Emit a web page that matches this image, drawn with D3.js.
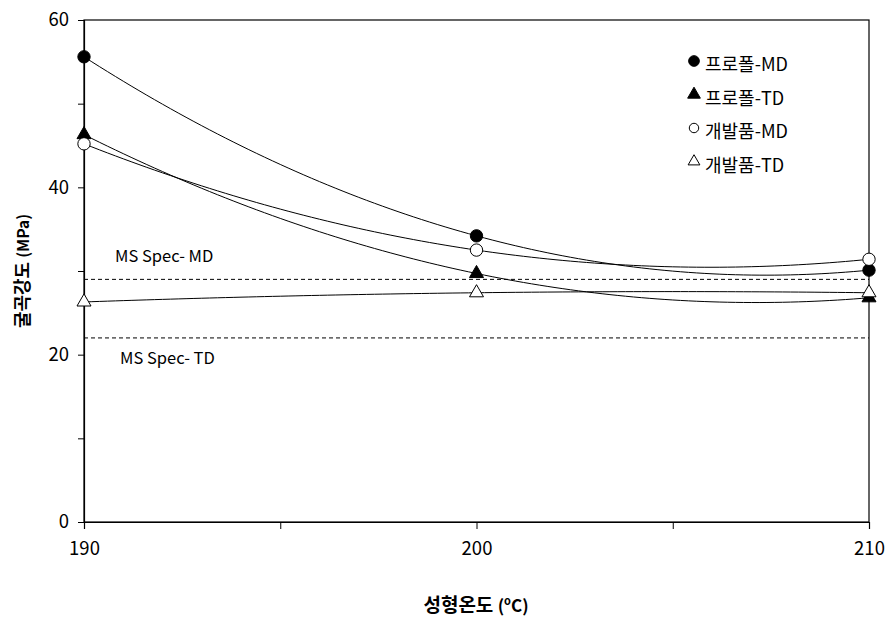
<!DOCTYPE html>
<html><head><meta charset="utf-8">
<script src="https://cdn.jsdelivr.net/npm/d3@7"></script>
<style>body{margin:0;background:#fff}svg{display:block}text{font-family:"Noto Sans CJK KR","Noto Sans",sans-serif}</style>
</head><body><svg id="c" width="896" height="617"></svg>
<script>
const temps = [190, 200, 210];
const seriesNames = ["프로폴-MD", "프로폴-TD", "개발품-MD", "개발품-TD"];
const proMD = [55.6, 34.2, 30.1];
const proTD = [46.3, 29.7, 26.8];
const devMD = [45.2, 32.5, 31.4];
const devTD = [26.3, 27.4, 27.4];
const specMD = 29.0, specTD = 22.0;
const yTicks = [0, 10, 20, 30, 40, 50, 60];
const yLabels = [0, 20, 40, 60];
const xTicks = [190, 195, 200, 205, 210];
const xLabels = [190, 200, 210];

const svg = d3.select("#c");
const x = d3.scaleLinear().domain([190, 210]).range([84, 869]);
const y = d3.scaleLinear().domain([0, 60]).range([522, 20]);

// frame
svg.append("rect").attr("x", 84).attr("y", 20).attr("width", 785).attr("height", 502)
  .attr("fill", "none").attr("stroke", "#000").attr("stroke-width", 1.2);

// y axis
const ya = svg.append("g").attr("transform", "translate(84,0)")
  .call(d3.axisLeft(y).tickValues(yTicks).tickSize(6).tickFormat(d => yLabels.includes(d) ? d : ""));
ya.select(".domain").attr("stroke-width", 1.2);
ya.selectAll("text").attr("font-size", 18.5).attr("fill", "#000").attr("dx", -6);
// x axis
const xa = svg.append("g").attr("transform", "translate(0,522)")
  .call(d3.axisBottom(x).tickValues(xTicks).tickSize(7).tickFormat(d => xLabels.includes(d) ? d : ""));
xa.select(".domain").attr("stroke-width", 1.2);
xa.selectAll("text").attr("font-size", 18.5).attr("fill", "#000").attr("dy", 23);

// spec lines
[specMD, specTD].forEach(v => {
  svg.append("line").attr("x1", 84).attr("x2", 869).attr("y1", y(v)).attr("y2", y(v))
    .attr("stroke", "#000").attr("stroke-dasharray", "4,3").attr("stroke-width", 1);
});
svg.append("text").attr("x", 115).attr("y", 262).attr("font-size", 16.5).text("MS Spec- MD");
svg.append("text").attr("x", 120).attr("y", 364).attr("font-size", 16.5).text("MS Spec- TD");

// quadratic trendlines through the 3 points
function quad(vals) {
  const [a0, a1, a2] = vals;
  const c = (a2 - 2 * a1 + a0) / 2;
  const b = a1 - a0 - c;
  return t => a0 + b * t + c * t * t;
}
const all = [proMD, proTD, devMD, devTD];
const line = d3.line().x(d => x(d[0])).y(d => y(d[1]));
all.forEach(vals => {
  const f = quad(vals);
  const pts = d3.range(0, 2.0001, 0.02).map(t => [190 + t * 10, f(t)]);
  svg.append("path").attr("d", line(pts)).attr("fill", "none").attr("stroke", "#000").attr("stroke-width", 1);
});

// markers
const circ = d3.symbol().type(d3.symbolCircle).size(120);
const tri = d3.symbol().type(d3.symbolTriangle).size(85);
const styles = [
  {sym: circ, fill: "#000"},
  {sym: tri, fill: "#000"},
  {sym: circ, fill: "#fff"},
  {sym: tri, fill: "#fff"}
];
all.forEach((vals, i) => {
  svg.append("g").selectAll("path").data(temps.map((t, j) => [t, vals[j]])).join("path")
    .attr("d", styles[i].sym()).attr("transform", d => `translate(${x(d[0])},${y(d[1])})`)
    .attr("fill", styles[i].fill).attr("stroke", "#000").attr("stroke-width", 1);
});

// legend
const lg = svg.append("g");
seriesNames.forEach((n, i) => {
  const yy = 65 + i * 33.5;
  const s = i >= 2 ? (i === 2 ? d3.symbol().type(d3.symbolCircle).size(70) : d3.symbol().type(d3.symbolTriangle).size(60))
                   : (i === 0 ? d3.symbol().type(d3.symbolCircle).size(90) : d3.symbol().type(d3.symbolTriangle).size(70));
  lg.append("path").attr("d", s()).attr("transform", `translate(694,${yy - 4})`)
    .attr("fill", styles[i].fill).attr("stroke", "#000").attr("stroke-width", 1);
  lg.append("text").attr("x", 705).attr("y", yy + 6).attr("font-size", 18).text(n);
});

// axis titles
svg.append("text").attr("transform", "translate(29,271) rotate(-90)").attr("text-anchor", "middle")
  .attr("font-size", 18).attr("font-weight", "bold")
  .html('굴곡강도 <tspan font-size="15.5">(MPa)</tspan>');
const xt = svg.append("text").attr("x", 476).attr("y", 612).attr("text-anchor", "middle")
  .attr("font-size", 19).attr("font-weight", "bold");
xt.append("tspan").text("성형온도 ");
xt.append("tspan").attr("font-size", 17).text("(");
xt.append("tspan").attr("font-size", 11).attr("dy", -7).text("o");
xt.append("tspan").attr("font-size", 17).attr("dy", 7).text("C)");
</script></body></html>
